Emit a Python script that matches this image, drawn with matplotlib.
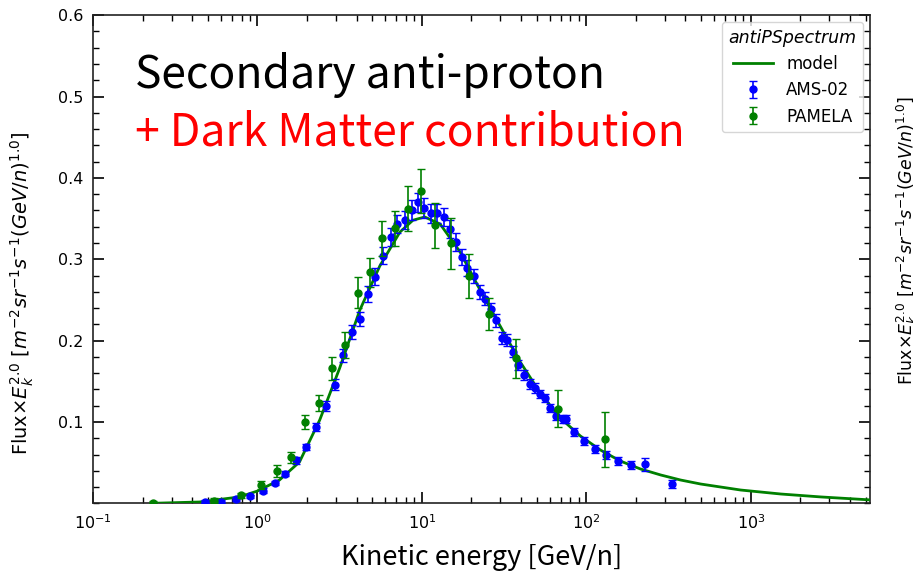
import numpy as np
import matplotlib
matplotlib.use("Agg")
import matplotlib.pyplot as plt

# AMS-02 antiproton points (E in GeV/n, flux*E^2)
ams_e = [0.48, 0.60, 0.74, 0.906, 1.077, 1.27, 1.48, 1.72, 1.98, 2.28, 2.60, 2.94,
         3.31, 3.73, 4.19, 4.69, 5.21, 5.78, 6.44, 7.07, 7.85, 8.65, 9.45, 10.3,
         11.35, 12.35, 13.6, 14.75, 16.05, 17.46, 18.9, 20.6, 22.6, 24.2, 26.2,
         28.3, 30.8, 33.0, 35.7, 38.6, 41.9, 45.1, 48.7, 52.4, 56.0, 60.3, 65.6,
         72.1, 75.5, 83.7, 96.3, 112.4, 131.8, 155, 185.5, 226.7, 333]
ams_y = [0.002, 0.002, 0.0054, 0.0087, 0.0156, 0.025, 0.0365, 0.053, 0.069, 0.094,
         0.120, 0.146, 0.182, 0.2106, 0.2265, 0.257, 0.2787, 0.3045, 0.327, 0.3436,
         0.3485, 0.3604, 0.370, 0.363, 0.3564, 0.3564, 0.3515, 0.337, 0.3215,
         0.3027, 0.2892, 0.2794, 0.260, 0.2515, 0.2385, 0.225, 0.2032, 0.2007,
         0.1864, 0.1697, 0.158, 0.1467, 0.1418, 0.1344, 0.129, 0.1168, 0.1074,
         0.1033, 0.1033, 0.088, 0.0767, 0.0665, 0.0595, 0.052, 0.0467, 0.048, 0.0235]
ams_err = [0.002, 0.002, 0.002, 0.002, 0.003, 0.003, 0.003, 0.004, 0.004, 0.005,
           0.006, 0.007, 0.008, 0.009, 0.009, 0.010, 0.010, 0.010, 0.011, 0.011,
           0.011, 0.012, 0.012, 0.012, 0.012, 0.012, 0.011, 0.011, 0.011, 0.010,
           0.010, 0.009, 0.009, 0.008, 0.008, 0.008, 0.007, 0.007, 0.007, 0.006,
           0.006, 0.006, 0.006, 0.005, 0.005, 0.005, 0.005, 0.005, 0.005, 0.005,
           0.005, 0.005, 0.005, 0.005, 0.005, 0.008, 0.005]

# PAMELA antiproton points
pam_e = [0.23, 0.547, 0.795, 1.053, 1.31, 1.606, 1.95, 2.355, 2.83, 3.41, 4.06,
         4.82, 5.74, 6.89, 8.22, 9.90, 12.08, 15.0, 19.3, 25.7, 37.4, 67.0, 130.3]
pam_y = [0.001, 0.003, 0.010, 0.0226, 0.040, 0.0566, 0.100, 0.123, 0.166, 0.195,
         0.259, 0.284, 0.3257, 0.338, 0.3623, 0.3838, 0.3417, 0.3195, 0.2794,
         0.2329, 0.1783, 0.1163, 0.0787]
pam_err = [0.002, 0.003, 0.003, 0.005, 0.007, 0.007, 0.009, 0.010, 0.014, 0.016,
           0.019, 0.018, 0.0215, 0.0215, 0.028, 0.027, 0.028, 0.031, 0.027, 0.020,
           0.024, 0.023, 0.034]

# model curve
model_e = [0.23, 0.443, 0.777, 1.0, 1.36, 1.80, 2.39, 3.16, 4.19, 5.54, 7.34, 8.81,
           10.4, 12.9, 17.05, 22.6, 29.9, 39.6, 52.4, 69.4, 91.9, 121.6, 161, 213,
           283, 374, 495, 868, 1524, 2670, 5400]
model_y = [0.0001, 0.0017, 0.0079, 0.0152, 0.0287, 0.0509, 0.1025, 0.1663, 0.2376,
           0.2917, 0.3334, 0.348, 0.352, 0.3433, 0.309, 0.262, 0.2179, 0.1737,
           0.1356, 0.1049, 0.0828, 0.0656, 0.052, 0.0423, 0.0349, 0.0287, 0.0238,
           0.0164, 0.0115, 0.0079, 0.0042]

ylab = r'Flux$\times E_k^{2.0}$ [$m^{-2}sr^{-1}s^{-1}(GeV/n)^{1.0}$]'
cjk = ['Noto Sans CJK SC', 'DejaVu Sans']

fig = plt.figure(figsize=(9.13, 5.73), dpi=100)
ax = fig.add_axes([0.1019, 0.1215, 0.851, 0.852])

ax.plot(model_e, model_y, color='green', lw=2, label='model', zorder=3)
ax.errorbar(ams_e, ams_y, yerr=ams_err, fmt='o', color='blue', ms=5,
            capsize=3, elinewidth=1.2, label='AMS-02', zorder=4)
ax.errorbar(pam_e, pam_y, yerr=pam_err, fmt='o', color='green', ms=5,
            capsize=3, elinewidth=1.2, label='PAMELA', zorder=5)

ax.set_xscale('log')
ax.set_xlim(0.1, 5300)
ax.set_ylim(0, 0.6)
ax.set_yticks(np.arange(0.1, 0.61, 0.1))
ax.set_yticks(np.arange(0.0, 0.6, 0.02), minor=True)
ax.tick_params(which='both', direction='in', top=True, right=True, labelsize=11.5)
ax.tick_params(which='major', length=8, width=1.2, pad=7)
ax.tick_params(which='minor', length=4, width=1)
for side in ['top', 'bottom', 'left', 'right']:
    ax.spines[side].set(lw=1.2, color='#222222')

ax.set_xlabel('Kinetic energy [GeV/n]', fontsize=19.5, family=cjk, labelpad=9)
ax.set_ylabel(ylab, fontsize=14)
ax.yaxis.set_label_coords(-0.074, 0.43)

leg = ax.legend(title='antiPSpectrum', loc='upper right', fontsize=12,
                title_fontsize=12.5, framealpha=0.8, handlelength=2.4,
                borderaxespad=0.4)
leg.get_title().set_style('italic')

ax.text(0.054, 0.877, 'Secondary anti-proton', transform=ax.transAxes,
        fontsize=32, family=cjk, va='center')
ax.text(0.054, 0.760, '+ Dark Matter contribution', transform=ax.transAxes,
        fontsize=32, color='red', family=cjk, va='center')

# cut-off label of the neighbouring panel
fig.text(0.980, 0.58, ylab, rotation=90, fontsize=12.5, va='center', ha='left')

plt.savefig('out.png', dpi=100)
